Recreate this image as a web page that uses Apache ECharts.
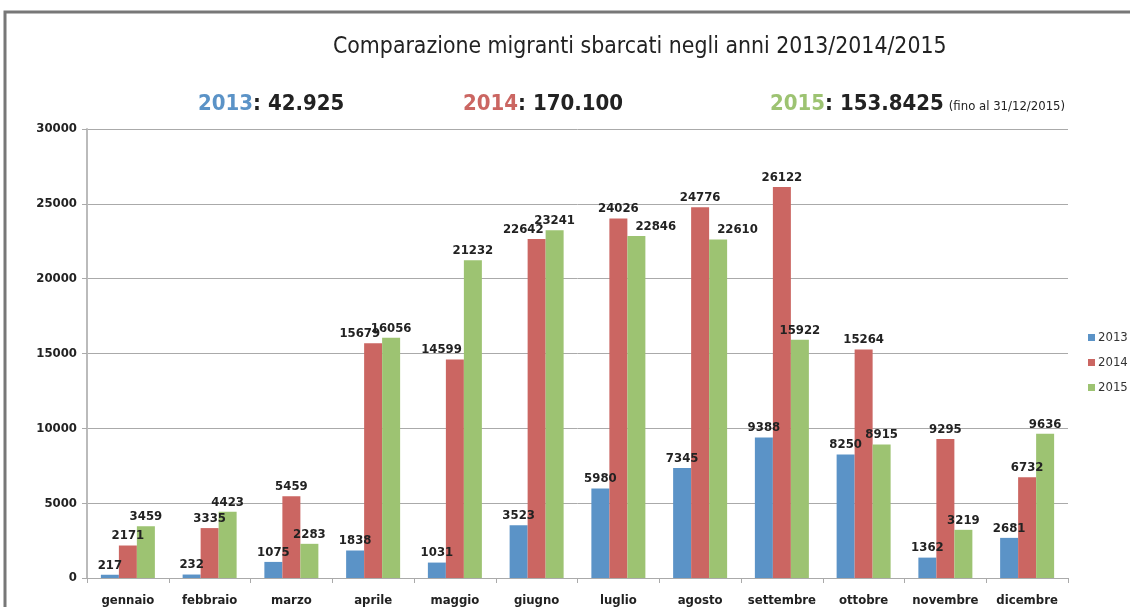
<!DOCTYPE html>
<html>
<head>
<meta charset="utf-8">
<script src="https://cdn.jsdelivr.net/npm/echarts@6/dist/echarts.min.js"></script>
<style>
  html, body { margin: 0; padding: 0; background: #fff; }
  #main { width: 1130px; height: 607px; }
</style>
</head>
<body>
<div id="main"></div>
<script>
// mesi
var months = ['gennaio', 'febbraio', 'marzo', 'aprile', 'maggio', 'giugno',
  'luglio', 'agosto', 'settembre', 'ottobre', 'novembre', 'dicembre'];
var years = ['2013', '2014', '2015'];
// sbarchi per mese
var data2013 = [217, 232, 1075, 1838, 1031, 3523, 5980, 7345, 9388, 8250, 1362, 2681];
var data2014 = [2171, 3335, 5459, 15679, 14599, 22642, 24026, 24776, 26122, 15264, 9295, 6732];
var data2015 = [3459, 4423, 2283, 16056, 21232, 23241, 22846, 22610, 15922, 8915, 3219, 9636];
// totali annuali (testo come in originale)
var totals = ['42.925', '170.100', '153.8425'];
var colors = ['#5b93c7', '#cb6662', '#9dc372'];

var allData = [data2013, data2014, data2015];
var FONT = '"Liberation Sans Narrow", "DejaVu Sans Condensed", sans-serif';

var chart = echarts.init(document.getElementById('main'));

// sposta l'etichetta di lato se finisce sopra una barra vicina più alta
function avoidBars(params) {
  var s = params.seriesIndex, i = params.dataIndex;
  var r = params.rect, lr = params.labelRect;
  var bottom = Math.max(r.y, r.y + r.height);
  var scale = Math.abs(r.height) / allData[s][i];
  var left = Math.min(r.x, r.x + r.width), w = Math.abs(r.width);
  var labelBottom = lr.y + lr.height;
  var dx = 0;
  if (s < allData.length - 1) {
    var topR = bottom - allData[s + 1][i] * scale;
    var overR = lr.x + lr.width - (left + w);
    if (topR < labelBottom && overR >= 8) dx = -(overR + 2);
  }
  if (s > 0 && dx === 0) {
    var topL = bottom - allData[s - 1][i] * scale;
    var overL = left - lr.x;
    // solo se la barra vicina è poco più alta
    if (topL < labelBottom && labelBottom - topL < 60 && overL >= 8) dx = overL + 8;
  }
  return { dx: dx };
}

function barSeries(name, values, color) {
  return {
    name: name,
    type: 'bar',
    barWidth: 18,
    barGap: '0%',
    data: values,
    itemStyle: { color: color },
    label: {
      show: true,
      position: 'top',
      distance: 3,
      color: '#222',
      fontFamily: FONT,
      fontWeight: 'bold',
      fontSize: 13
    },
    labelLayout: avoidBars
  };
}

var summaryLeft = [193, 458, 765];
var titles = [{
  text: 'Comparazione migranti sbarcati negli anni 2013/2014/2015',
  left: 328,
  top: 31,
  textStyle: { fontFamily: FONT, fontSize: 22.8, fontWeight: 'normal', color: '#222' }
}];
years.forEach(function (y, i) {
  var txt = '{y|' + y + '}{v|: ' + totals[i] + '}';
  if (i == 2) txt += ' {n|(fino al 31/12/2015)}';
  titles.push({
    text: txt,
    left: summaryLeft[i],
    top: 88,
    textStyle: {
      rich: {
        y: { fontFamily: FONT, fontSize: 22, fontWeight: 'bold', color: colors[i] },
        v: { fontFamily: FONT, fontSize: 22, fontWeight: 'bold', color: '#222' },
        n: { fontFamily: FONT, fontSize: 13, fontWeight: 'normal', color: '#222', padding: [5, 0, 0, 0] }
      }
    }
  });
});

var option = {
  backgroundColor: '#fff',
  animation: false,
  title: titles,
  legend: {
    orient: 'vertical',
    left: 1083,
    top: 326,
    itemWidth: 7,
    itemHeight: 7,
    itemGap: 12,
    icon: 'rect',
    textStyle: { fontFamily: FONT, fontSize: 13, color: '#333', padding: [0, 0, 0, -2] },
    data: years
  },
  grid: { left: 87, right: 62, top: 129, bottom: 29 },
  xAxis: {
    type: 'category',
    data: months,
    axisLine: { lineStyle: { color: '#aaa', width: 1 } },
    axisTick: { show: true, length: 5, lineStyle: { color: '#aaa' } },
    axisLabel: {
      interval: 0,
      margin: 16,
      color: '#222',
      fontFamily: FONT,
      fontWeight: 'bold',
      fontSize: 13
    }
  },
  yAxis: {
    type: 'value',
    min: 0,
    max: 30000,
    interval: 5000,
    axisLine: { show: true, lineStyle: { color: '#bbb', width: 2 } },
    axisTick: { show: true, length: 5, lineStyle: { color: '#aaa' } },
    splitLine: { lineStyle: { color: '#aaa', width: 1 } },
    axisLabel: {
      margin: 10,
      color: '#222',
      fontFamily: FONT,
      fontWeight: 'bold',
      fontSize: 13,
      formatter: function (v) { return String(v); }
    }
  },
  graphic: [
    // cornice della schermata originale
    { type: 'rect', shape: { x: 5, y: 12, width: 1140, height: 620 },
      style: { fill: 'none', stroke: '#777', lineWidth: 3 } }
  ],
  series: [
    barSeries('2013', data2013, colors[0]),
    barSeries('2014', data2014, colors[1]),
    barSeries('2015', data2015, colors[2])
  ]
};
chart.setOption(option);
</script>
</body>
</html>
